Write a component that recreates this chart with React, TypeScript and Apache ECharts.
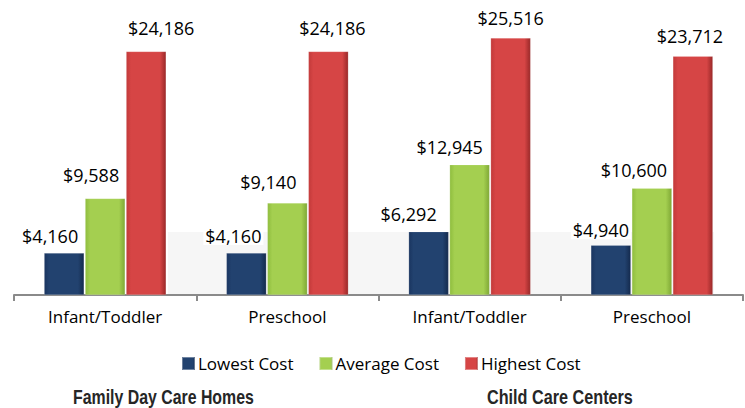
import React, { useEffect, useRef } from "react";
import * as echarts from "echarts";

const categories = ["Infant/Toddler", "Preschool", "Infant/Toddler", "Preschool"];
const seriesNames = ["Lowest Cost", "Average Cost", "Highest Cost"];
const lowest = [4160, 4160, 6292, 4940];
const average = [9588, 9140, 12945, 10600];
const highest = [24186, 24186, 25516, 23712];
const groupTitles = ["Family Day Care Homes", "Child Care Centers"];

// label nudges (style only)
const labelDx = [
  [-14, -13, -20, -10],
  [-14, -19, -20, -18],
  [15, 4, 0, -3],
];
const labelDy = [
  [1, 1, 0, 3],
  [-5, -3, 0, 0],
  [-5, -5, -2, -2],
];

const grad = (l: string, m: string, r: string) =>
  new echarts.graphic.LinearGradient(0, 0, 1, 0, [
    { offset: 0, color: l },
    { offset: 0.12, color: m },
    { offset: 0.85, color: m },
    { offset: 1, color: r },
  ]);

const colors = [
  { solid: "#22406e", fill: () => grad("#1a3560", "#22426f", "#142a4d") },
  { solid: "#9bc84a", fill: () => grad("#8fbd3e", "#a4cf50", "#7fa836") },
  { solid: "#cf3f3f", fill: () => grad("#c23a3a", "#d64545", "#992828") },
];

const fmt = (v: number) => "$" + v.toLocaleString("en-US");

const TITLE_FONT = "bold 20px 'Liberation Sans', Arial, sans-serif";
const measure = (t: string) => {
  const c = document.createElement("canvas").getContext("2d");
  if (!c) return 1;
  c.font = TITLE_FONT;
  return c.measureText(t).width || 1;
};

export default function App() {
  const ref = useRef<HTMLDivElement>(null);
  useEffect(() => {
    if (!ref.current) return;
    const chart = echarts.init(ref.current, undefined, { renderer: "svg" });
    const values = [lowest, average, highest];
    const series = values.map((vals, si) => ({
      name: seriesNames[si],
      type: "bar",
      barWidth: 40,
      barGap: "2.5%",
      z: 3,
      itemStyle: { color: colors[si].fill(), borderColor: "rgba(255,255,255,0.35)", borderWidth: 0.5 },
      data: vals.map((v, i) => ({
        value: v,
        label: { offset: [labelDx[si][i], labelDy[si][i]] },
      })),
      label: {
        show: true,
        position: "top",
        distance: 9,
        formatter: (p: any) => fmt(p.value),
        fontFamily: "Open Sans",
        fontWeight: "normal",
        fontSize: 18,
        color: "#000",
        backgroundColor: "#fff",
        padding: [0, 2],
      },
    }));
    const titleTargets = [
      { x: 73, w: 181 },
      { x: 487, w: 146 },
    ];
    const titles = groupTitles.map((t, i) => ({
      type: "text",
      x: titleTargets[i].x,
      y: 397.5,
      scaleX: titleTargets[i].w / measure(t),
      style: {
        text: t,
        font: TITLE_FONT,
        fill: "#262626",
        align: "left",
        verticalAlign: "middle",
      },
    }));
    chart.setOption({
      animation: false,
      color: colors.map((c) => c.solid),
      grid: { left: 14, right: 2, top: 13, bottom: 113, containLabel: false },
      xAxis: {
        type: "category",
        data: categories,
        axisLine: { show: true, lineStyle: { color: "#8a8a8a", width: 2 } },
        axisTick: { show: true, length: 6, lineStyle: { color: "#8a8a8a", width: 2 } },
        axisLabel: { fontFamily: "Open Sans", fontSize: 17, color: "#000", margin: 13 },
      },
      yAxis: { type: "value", min: 0, max: 28000, show: false, splitLine: { show: false } },
      legend: {
        left: 181,
        top: 355,
        padding: 0,
        itemWidth: 13,
        itemHeight: 13,
        itemGap: 25,
        icon: "rect",
        textStyle: { fontFamily: "Open Sans", fontSize: 17, color: "#000", padding: [0, 0, 0, -2] },
        data: seriesNames.map((n, i) => ({ name: n, itemStyle: { color: colors[i].fill() } })),
      },
      graphic: [
        {
          type: "rect",
          z: 0,
          silent: true,
          shape: { x: 168, y: 232, width: 546, height: 62 },
          style: { fill: "#f6f6f6" },
        },
        ...titles,
      ],
      series,
    });
    return () => chart.dispose();
  }, []);
  return (
    <div
      ref={ref}
      style={{ position: "absolute", left: 0, top: 0, width: 745, height: 408, overflow: "hidden" }}
    />
  );
}
